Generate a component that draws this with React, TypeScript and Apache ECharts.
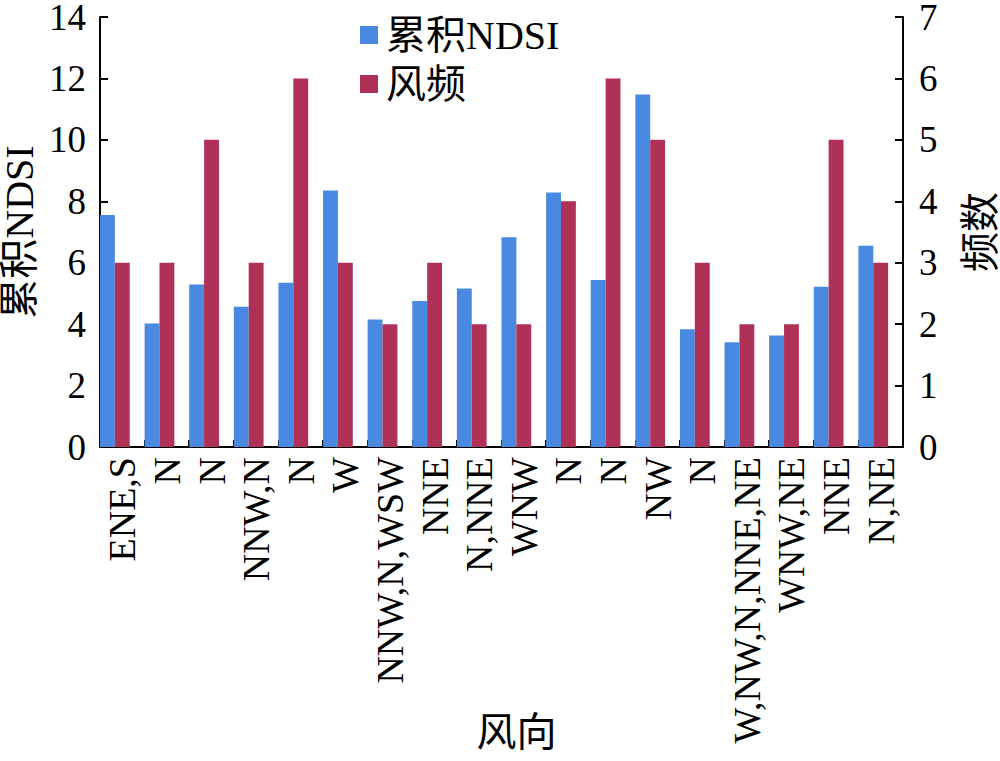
import React, { useEffect, useRef } from "react";
import * as echarts from "echarts";

const categories = [
  "ENE,S", "N", "N", "NNW,N", "N", "W", "NNW,N,WSW", "NNE", "N,NNE",
  "WNW", "N", "N", "NW", "N", "W,NW,N,NNE,NE", "WNW,NE", "NNE", "N,NE",
];
const ndsiValues = [
  7.55, 4.02, 5.29, 4.57, 5.35, 8.35, 4.15, 4.75, 5.16,
  6.83, 8.29, 5.44, 11.48, 3.83, 3.41, 3.63, 5.22, 6.55,
];
const freqValues = [3, 3, 5, 3, 6, 3, 2, 3, 2, 2, 4, 6, 5, 3, 2, 2, 5, 3];
const leftTicks = { min: 0, max: 14, interval: 2 };
const rightTicks = { min: 0, max: 7, interval: 1 };

const FONT = "'Liberation Serif', 'Times New Roman', 'Noto Sans CJK SC', serif";
const BLUE = "#4a89e1";
const RED = "#af3156";

export default function App() {
  const ref = useRef<HTMLDivElement>(null);
  useEffect(() => {
    if (!ref.current) return;
    const chart = echarts.init(ref.current, null, { renderer: "svg" });
    const axisCommon = {
      axisLine: { show: true, lineStyle: { color: "#000", width: 2 } },
      axisTick: { show: true, inside: true, length: 8, lineStyle: { color: "#000", width: 2 } },
      splitLine: { show: false },
      axisLabel: { color: "#000", fontFamily: FONT, fontSize: 37, lineHeight: 30 },
      nameTextStyle: { color: "#000", fontFamily: FONT, fontSize: 40, lineHeight: 36 },
      nameMoveOverlap: false,
    };
    chart.setOption({
      animation: false,
      textStyle: { fontFamily: FONT },
      grid: {
        left: 100,
        right: 97,
        top: 17,
        bottom: 314,
        containLabel: false,
        outerBoundsMode: "none",
      },
      legend: {
        data: ["累积NDSI", "风频"],
        orient: "vertical",
        left: 355,
        top: 10,
        itemWidth: 18,
        itemHeight: 18,
        itemGap: 9,
        icon: "rect",
        textStyle: { color: "#000", fontFamily: FONT, fontSize: 40, padding: [0, 0, 0, 3] },
      },
      xAxis: {
        type: "category",
        data: categories,
        boundaryGap: true,
        name: "风向",
        nameLocation: "middle",
        nameGap: 267,
        nameMoveOverlap: false,
        axisLine: { show: true, lineStyle: { color: "#000", width: 2 } },
        axisTick: { show: true, inside: true, length: 7, alignWithLabel: false, lineStyle: { color: "#000", width: 2 } },
        axisLabel: { color: "#000", fontFamily: FONT, fontSize: 38, rotate: 90, interval: 0, margin: 10 },
        nameTextStyle: { color: "#000", fontFamily: FONT, fontSize: 40, lineHeight: 36, padding: [0, 0, 0, 30] },
      },
      yAxis: [
        {
          ...axisCommon,
          type: "value",
          position: "left",
          min: leftTicks.min,
          max: leftTicks.max,
          interval: leftTicks.interval,
          name: "累积NDSI",
          nameLocation: "middle",
          nameGap: 63,
          nameRotate: 90,
          axisLabel: { ...axisCommon.axisLabel, margin: 14 },
        },
        {
          ...axisCommon,
          type: "value",
          position: "right",
          min: rightTicks.min,
          max: rightTicks.max,
          interval: rightTicks.interval,
          name: "频数",
          nameLocation: "middle",
          nameGap: 59,
          nameRotate: 90,
          axisLabel: { ...axisCommon.axisLabel, margin: 16 },
        },
      ],
      series: [
        {
          name: "累积NDSI",
          type: "bar",
          yAxisIndex: 0,
          data: ndsiValues,
          itemStyle: { color: BLUE },
          barGap: "0%",
          barCategoryGap: "0%",
        },
        {
          name: "风频",
          type: "bar",
          yAxisIndex: 1,
          data: freqValues,
          itemStyle: { color: RED },
          barGap: "0%",
          barCategoryGap: "0%",
        },
        {
          name: "spacer",
          type: "bar",
          yAxisIndex: 0,
          data: categories.map(() => null),
          silent: true,
          barGap: "0%",
          barCategoryGap: "0%",
        },
      ],
    });
    return () => chart.dispose();
  }, []);
  return (
    <div
      ref={ref}
      style={{ position: "fixed", left: 0, top: 0, width: 1000, height: 761, background: "#fff" }}
    />
  );
}
